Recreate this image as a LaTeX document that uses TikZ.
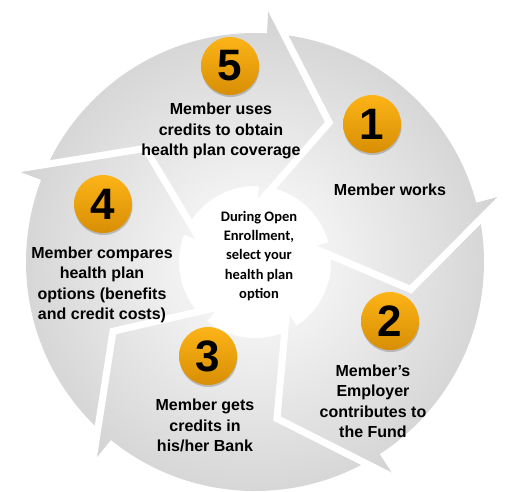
\documentclass[tikz,border=0pt]{standalone}
\usepackage{fontspec}
\setmainfont{Liberation Sans}
\newfontfamily\hubfont{Carlito}
\usetikzlibrary{shadows}
\definecolor{cyRingOut}{HTML}{D2D2D2}
\definecolor{cyBadgeTop}{HTML}{FCB417}
\definecolor{cyBadgeBot}{HTML}{D88E04}
\tikzset{
  cy-badge/.style={
    circle, minimum size=58pt, inner sep=0pt,
    top color=cyBadgeTop, bottom color=cyBadgeBot,
    drop shadow={shadow xshift=0.5pt, shadow yshift=-2pt,
      opacity=0.35, fill=black!60},
    font=\fontsize{44}{44}\selectfont\bfseries
  },
  cy-step/.style={align=center, font=\fontsize{16}{20.5}\selectfont\bfseries},
  cy-hub/.style={align=center, font=\hubfont\fontsize{14.5}{19.3}\selectfont\bfseries},
  cy-gap/.style={draw=white, line width=7pt, line join=miter},
  cy-fill/.style={inner color=white, outer color=cyRingOut}
}
\begin{document}
\begin{tikzpicture}[x=1pt,y=1pt]
\useasboundingbox (-255,-229) rectangle (255,262);
% ring
\begin{scope}[even odd rule]
  \clip (0,0) circle (229) (0,0) circle (76);
  \shade[cy-fill] (0,0) circle (255);
\end{scope}
% arrow heads
\foreach \b in {87,15,-57,-129,-201}{
  \begin{scope}
    \clip (\b:258) -- (\b-25:158) -- (\b:58) -- cycle;
    \shade[cy-fill] (0,0) circle (255);
  \end{scope}
  \draw[cy-gap] (\b:258) -- (\b-25:158) -- (\b:58);
}

\node[cy-badge] (b5) at (-25,196) {5};
\node[cy-badge] (b1) at (117,138) {1};
\node[cy-badge] (b2) at (135,-59) {2};
\node[cy-badge] (b3) at (-47,-94) {3};
\node[cy-badge] (b4) at (-152,58) {4};

\node[cy-step] (t5) at (-34,131) {Member uses\\credits to obtain\\health plan coverage};
\node[cy-step] (t1) at (135,72) {Member works};
\node[cy-step] (t2) at (118,-139.5) {Member’s\\Employer\\contributes to\\the Fund};
\node[cy-step] (t3) at (-50,-163.5) {Member gets\\credits in\\his/her Bank};
\node[cy-step] (t4) at (-153,-23) {Member compares\\health plan\\options (benefits\\and credit costs)};
\node[cy-hub] (hub) at (4,6) {During Open\\Enrollment,\\select your\\health plan\\option};
\end{tikzpicture}
\end{document}
